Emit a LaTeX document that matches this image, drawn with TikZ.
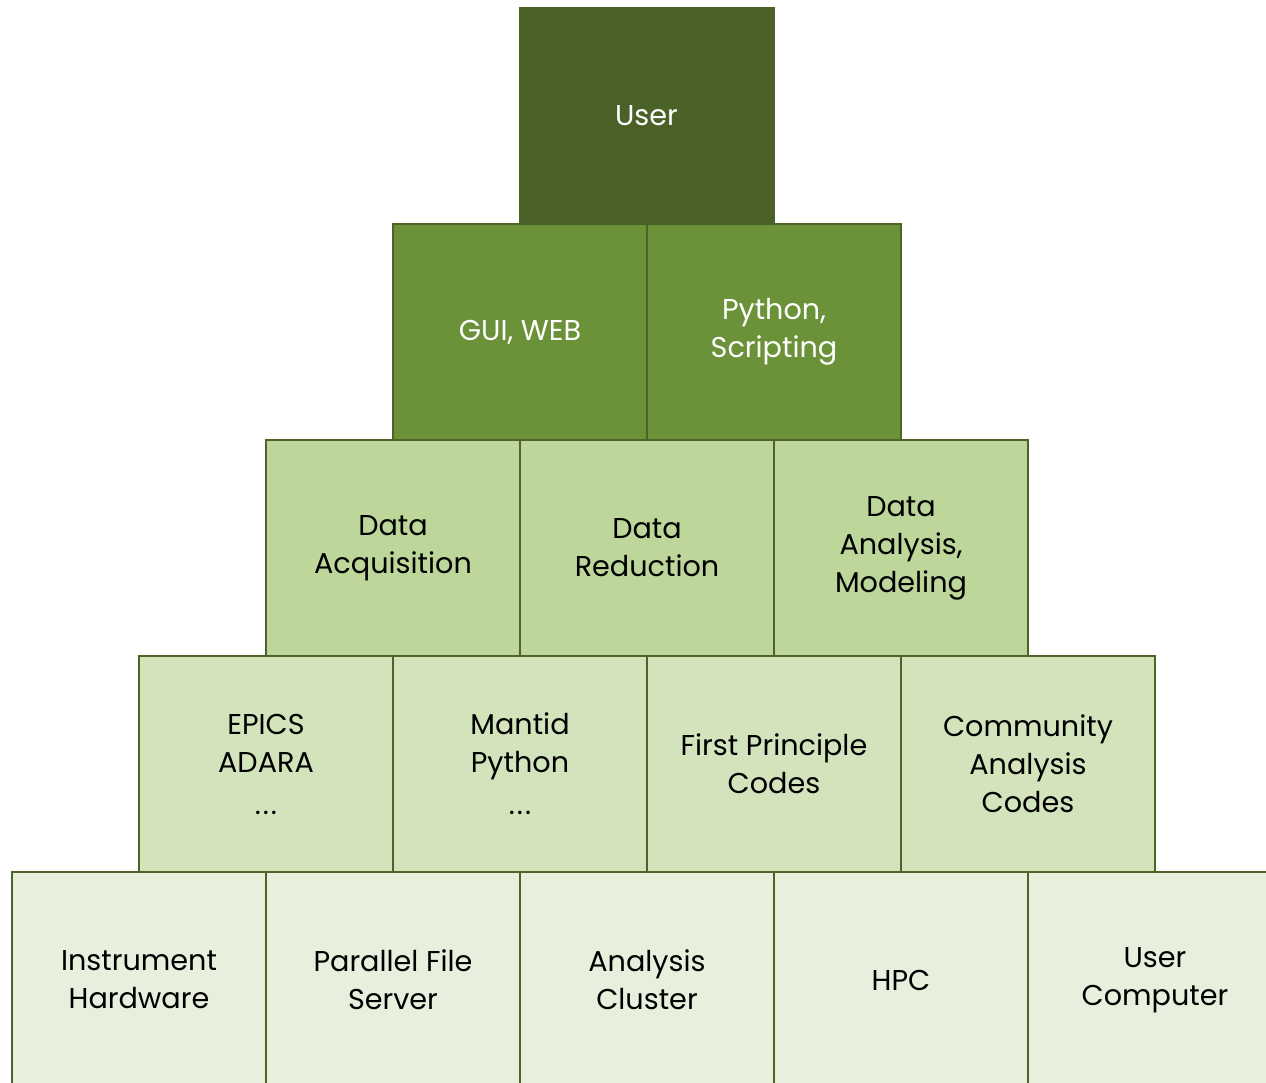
\documentclass[tikz,border=0pt]{standalone}
\usepackage{fontspec}
\setmainfont{Poppins}

\definecolor{edgegreen}{HTML}{4F6228}
\definecolor{tierone}{HTML}{4A6128}
\definecolor{tiertwo}{HTML}{6B9238}
\definecolor{tierthree}{HTML}{BDD69A}
\definecolor{tierfour}{HTML}{D3E3BC}
\definecolor{tierfive}{HTML}{E8EFDC}

\tikzset{
    brick/.style={draw=edgegreen, line width=1.5pt, minimum width=190.5pt,
        minimum height=162pt, inner sep=0pt, align=center,
        font=\fontsize{21.5}{28.5}\selectfont},
    tier1/.style={brick, fill=tierone, draw=tierone, text=white},
    tier2/.style={brick, fill=tiertwo, text=white},
    tier3/.style={brick, fill=tierthree, text=black},
    tier4/.style={brick, fill=tierfour, text=black},
    tier5/.style={brick, fill=tierfive, text=black},
}
\newcommand{\moredots}{\raisebox{-3pt}{.\kern1.5pt.\kern1.5pt.}}

\begin{document}
\begin{tikzpicture}[x=0.75pt, y=-0.75pt]
    \useasboundingbox (0,0) rectangle (1266,1082);
    \clip (0,0) rectangle (1266,1082);

    % bottom row first, the upper rows sit on top of it
    \node[tier5] (hardware)     at (139,980)  {Instrument\\Hardware};
    \node[tier5] (fileserver)   at (393,980)  {Parallel File\\Server};
    \node[tier5] (cluster)      at (647,980)  {Analysis\\Cluster};
    \node[tier5] (hpc)          at (901,980)  {HPC};
    \node[tier5] (usercomputer) at (1155,980) {User\\Computer};

    \node[tier4] (epics)     at (266,764)  {EPICS\\ADARA\\\moredots};
    \node[tier4] (mantid)    at (520,764)  {Mantid\\Python\\\moredots};
    \node[tier4] (firstprin) at (774,764)  {First Principle\\Codes};
    \node[tier4] (community) at (1028,764) {Community\\Analysis\\Codes};

    \node[tier3] (acquisition) at (393,548) {Data\\Acquisition};
    \node[tier3] (reduction)   at (647,548) {Data\\Reduction};
    \node[tier3] (modeling)    at (901,548) {Data\\Analysis,\\Modeling};

    \node[tier2] (gui)    at (520,332) {GUI, WEB};
    \node[tier2] (python) at (774,332) {Python,\\Scripting};

    \node[tier1] (user) at (646.5,116) {User};
\end{tikzpicture}
\end{document}
